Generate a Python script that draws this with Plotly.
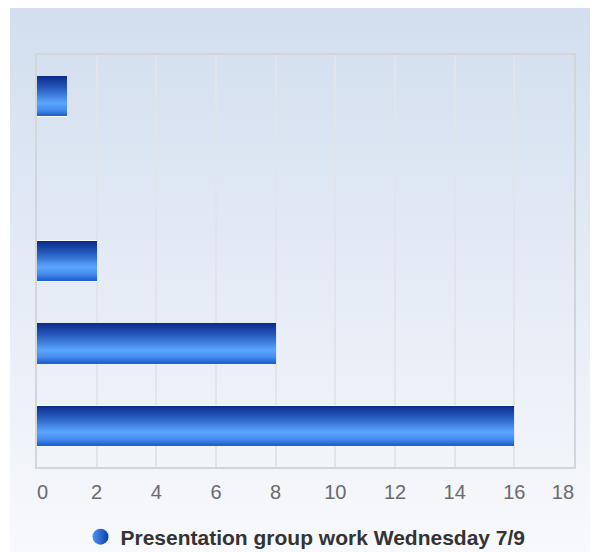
import base64
import plotly.graph_objects as go

# ---- data ----
categories = [0, 1, 2, 3, 4]
values = [1, 0, 2, 8, 16]
series_name = "Presentation group work Wednesday 7/9"
x_ticks = [0, 2, 4, 6, 8, 10, 12, 14, 16, 18]
x_tick_labels = ["0", "2", "4", "6", "8", "10", "12", "14", "16", "18"]

# ---- styling helpers ----
stops = [(0.0, (10, 42, 138)), (0.3, (38, 90, 190)), (0.68, (90, 166, 255)),
         (0.85, (70, 140, 238)), (1.0, (28, 96, 206))]


def grad(t):
    for (t0, c0), (t1, c1) in zip(stops[:-1], stops[1:]):
        if t0 <= t <= t1:
            f = (t - t0) / (t1 - t0)
            return "rgb(%d,%d,%d)" % tuple(round(a + (b - a) * f) for a, b in zip(c0, c1))
    return "rgb(%d,%d,%d)" % stops[-1][1]


# edge labels sit inside the plot edges (padding with non-breaking spaces)
NB = "\u00a0"
tick_text = list(x_tick_labels)
tick_text[0] = NB * 2 + tick_text[0]
tick_text[-1] = tick_text[-1] + NB * 4

BAR_W = 0.48
N = 40
sw = BAR_W / N

fig = go.Figure()
# white halo behind the bars
fig.add_trace(go.Bar(
    x=values, y=categories, orientation="h", width=BAR_W + 0.02, offset=-BAR_W / 2 - 0.01,
    marker=dict(color="rgba(255,255,255,0.9)", line=dict(width=0)),
    showlegend=False, hoverinfo="skip",
))
for i in range(N):
    off = -BAR_W / 2 + i * sw
    w = min(sw * 1.6, BAR_W / 2 - off)
    fig.add_trace(go.Bar(
        x=values, y=categories, orientation="h",
        width=w, offset=off,
        marker=dict(color=grad((i + 0.5) / N), line=dict(width=0)),
        showlegend=False, hoverinfo="skip",
    ))
# legend entry
fig.add_trace(go.Scatter(
    x=[None], y=[None], mode="markers", name=series_name,
    marker=dict(symbol="circle", size=20, color="#4f95f5",
                gradient=dict(type="horizontal", color="#0d3fa6")),
))

svg = ('<svg xmlns="http://www.w3.org/2000/svg" width="100" height="100" preserveAspectRatio="none">'
       '<defs><linearGradient id="g" x1="0" y1="0" x2="0" y2="1">'
       '<stop offset="0" stop-color="#d2deef"/><stop offset="1" stop-color="#f8f9fc"/>'
       '</linearGradient></defs><rect width="100" height="100" fill="url(#g)"/></svg>')
src = "data:image/svg+xml;base64," + base64.b64encode(svg.encode()).decode()

W, H = 590, 544
L, R, T, B = 29, 24, 47, 85
pw, ph = W - L - R, H - T - B

fig.add_layout_image(dict(
    source=src, xref="paper", yref="paper",
    x=(2 - L) / pw, y=1 + T / ph,
    sizex=(W - 2) / pw, sizey=H / ph,
    sizing="stretch", layer="below", xanchor="left", yanchor="top",
))

fig.update_layout(
    width=W, height=H,
    margin=dict(l=L, r=R, t=T, b=B),
    paper_bgcolor="white", plot_bgcolor="rgba(0,0,0,0)",
    barmode="overlay", bargap=0,
    font=dict(family="Liberation Sans, Arial, sans-serif", color="#666"),
    xaxis=dict(range=[0, 18], tickvals=x_ticks, ticktext=tick_text, showgrid=True,
               gridcolor="#e1e4ea", gridwidth=2, zeroline=False, showline=True, mirror=True,
               linecolor="#d2d5da", linewidth=2, ticks="outside", ticklen=6, automargin=False,
               tickcolor="rgba(0,0,0,0)", tickfont=dict(size=20, color="#6a6a6a")),
    yaxis=dict(range=[4.5, -0.5], showticklabels=False, showgrid=False, zeroline=False,
               showline=True, mirror=True, linecolor="#d2d5da", linewidth=2, automargin=False),
    legend=dict(orientation="h", x=0.5, xanchor="center", xref="paper",
                y=15 / H, yanchor="middle", yref="container",
                bgcolor="rgba(0,0,0,0)",
                font=dict(size=21, color="#333", family="Liberation Sans, Arial, sans-serif",
                          weight="bold")),
    showlegend=True,
)

fig.write_html("out.html")
